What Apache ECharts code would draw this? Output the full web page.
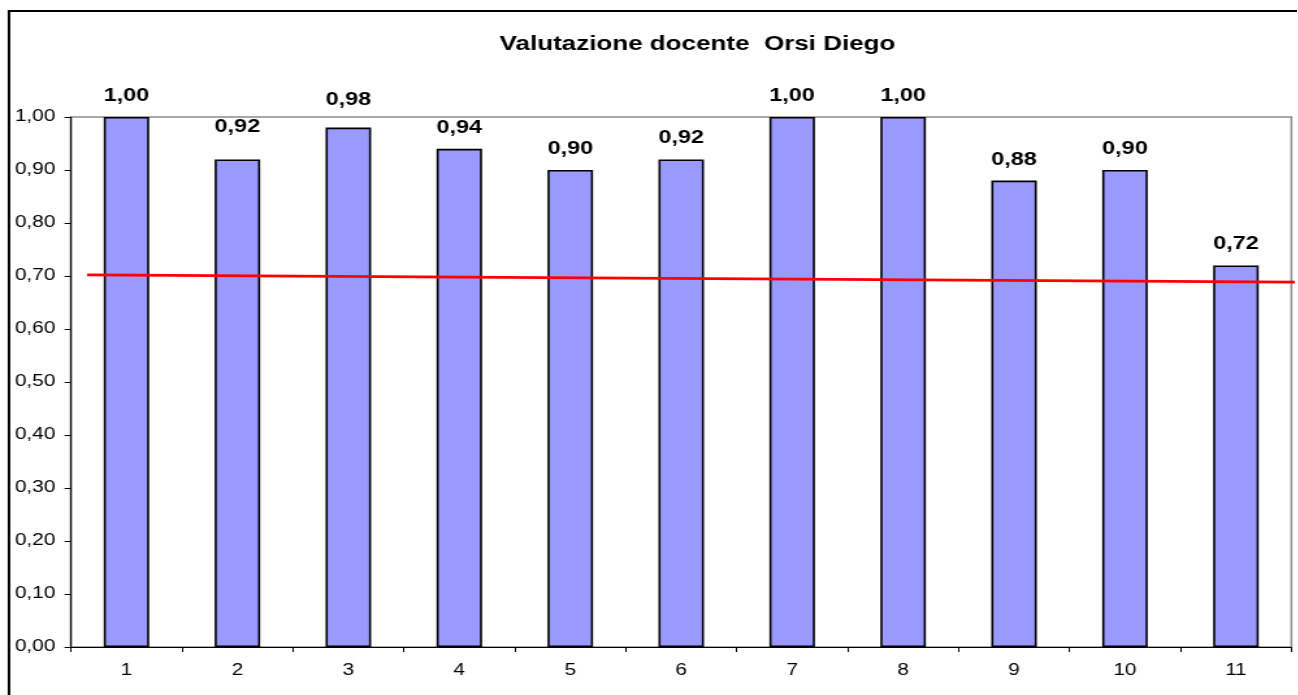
<!DOCTYPE html>
<html>
<head>
<meta charset="utf-8">
<script src="https://cdn.jsdelivr.net/npm/echarts@6/dist/echarts.min.js"></script>
<style>
html,body{margin:0;padding:0;background:#fff;overflow:hidden;}
#wrap{width:1298px;height:695px;overflow:hidden;position:relative;}
#chart{position:absolute;left:0;top:0;height:695px;transform-origin:0 0;}
</style>
</head>
<body>
<div id="wrap"><div id="chart"></div></div>
<script>
// Data
const categories = ['1','2','3','4','5','6','7','8','9','10','11'];
const values = [1.00, 0.92, 0.98, 0.94, 0.90, 0.92, 1.00, 1.00, 0.88, 0.90, 0.72];
const trendX = [0.644, 11.554];
const trendY = [0.702, 0.6885];
const yTicks = [0, 1, 0.1]; // min, max, interval
const titleText = 'Valutazione docente  Orsi Diego';

const S = 1.3; // horizontal stretch of the reference image
const W = 1298 / S;
const el = document.getElementById('chart');
el.style.width = W + 'px';
el.style.transform = 'scaleX(' + S + ')';

const fmt = v => Number(v).toFixed(2).replace('.', ',');
const FONT = '"Liberation Sans", Arial, sans-serif';
// labels that were moved up by hand in the original
const labelLift = {1: -11, 2: -7};

const chart = echarts.init(el, null, {renderer: 'canvas'});
chart.setOption({
  animation: false,
  backgroundColor: '#fff',
  textStyle: {fontFamily: FONT},
  title: {
    text: titleText,
    left: 691 / S,
    textAlign: 'center',
    top: 29,
    textStyle: {fontFamily: FONT, fontSize: 20, fontWeight: 'bold', color: '#000'}
  },
  graphic: [{
    type: 'rect',
    shape: {x: 9 / S, y: 11, width: W + 50, height: 800},
    style: {fill: 'none', stroke: '#000', lineWidth: 2},
    silent: true, z: 100
  }],
  grid: {
    left: 71 / S, right: 6 / S, top: 117, bottom: 48,
    show: true, borderColor: '#8c8c8c', borderWidth: 1.5, backgroundColor: 'transparent'
  },
  xAxis: [{
    type: 'category',
    data: categories,
    boundaryGap: true,
    axisLine: {lineStyle: {color: '#000', width: 1.2}},
    axisTick: {show: true, alignWithLabel: false, length: 5, lineStyle: {color: '#000'}},
    axisLabel: {color: '#000', fontSize: 16, margin: 16, fontFamily: FONT},
    splitLine: {show: false}
  }, {
    type: 'value',
    min: 0.5, max: 11.5,
    show: false
  }],
  yAxis: {
    type: 'value',
    min: yTicks[0], max: yTicks[1], interval: yTicks[2],
    axisLine: {show: true, lineStyle: {color: '#000', width: 1.2}},
    axisTick: {show: true, length: 5, lineStyle: {color: '#000'}},
    axisLabel: {color: '#000', fontSize: 16, margin: 12, fontFamily: FONT, formatter: fmt},
    splitLine: {show: false}
  },
  series: [{
    type: 'bar',
    data: values.map((v, i) => labelLift[i] ? {value: v, label: {offset: [0, labelLift[i]]}} : v),
    barWidth: '41%',
    itemStyle: {color: '#9999ff', borderColor: '#000', borderWidth: 1.6},
    label: {
      show: true, position: 'top', distance: 12,
      formatter: p => fmt(p.value),
      color: '#000', fontSize: 18, fontWeight: 'bold', fontFamily: FONT
    },
    z: 2
  }, {
    type: 'line',
    xAxisIndex: 1,
    data: trendX.map((x, i) => [x, trendY[i]]),
    symbol: 'none',
    clip: false,
    lineStyle: {color: '#ff0000', width: 2.8},
    z: 5
  }]
});
</script>
</body>
</html>
